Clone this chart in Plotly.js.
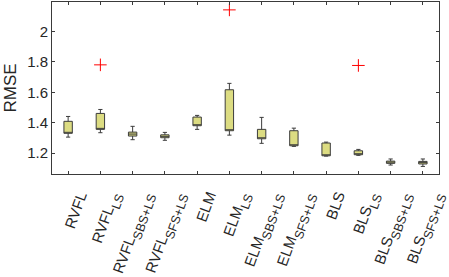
<!DOCTYPE html>
<html>
<head>
<meta charset="utf-8">
<script src="https://cdn.plot.ly/plotly-3.0.1.min.js"></script>
<style>html,body{margin:0;padding:0;background:#fff;}#chart{width:449px;height:277px;}</style>
</head>
<body>
<div id="chart"></div>
<script>
const categories = ['RVFL','RVFL_LS','RVFL_SBS+LS','RVFL_SFS+LS','ELM','ELM_LS','ELM_SBS+LS','ELM_SFS+LS','BLS','BLS_LS','BLS_SBS+LS','BLS_SFS+LS'];
const upperWhisker = [1.441, 1.487, 1.376, 1.336, 1.448, 1.659, 1.435, 1.364, 1.272, 1.224, 1.161, 1.161];
const q3Values     = [1.409, 1.461, 1.338, 1.320, 1.437, 1.617, 1.356, 1.347, 1.266, 1.215, 1.147, 1.145];
const medianValues = [1.330, 1.356, 1.325, 1.310, 1.380, 1.347, 1.294, 1.248, 1.182, 1.189, 1.140, 1.137];
const q1Values     = [1.330, 1.356, 1.312, 1.301, 1.380, 1.347, 1.294, 1.248, 1.182, 1.189, 1.132, 1.128];
const lowerWhisker = [1.305, 1.334, 1.288, 1.284, 1.356, 1.318, 1.264, 1.244, 1.180, 1.185, 1.121, 1.112];
const outlierCats = ['RVFL_LS','ELM_LS','BLS_LS'];
const outlierValues = [1.781, 2.143, 1.777];
const yTickVals = [1.2, 1.4, 1.6, 1.8, 2];
const yTickText = ['1.2', '1.4', '1.6', '1.8', '2'];

// tick label text: base name with subscript part rendered smaller and lowered
const tickText = categories.map(c => {
  const parts = c.split('_');
  return parts.length > 1
    ? parts[0] + '<sub><sub><span style="font-size:12.5px">' + parts[1] + '</span></sub></sub>'
    : parts[0];
});

const axisColor = '#3a3a3a';
const traces = [{
  type: 'box',
  x: categories,
  q1: q1Values,
  median: medianValues,
  q3: q3Values,
  lowerfence: lowerWhisker,
  upperfence: upperWhisker,
  width: 0.26,
  whiskerwidth: 0.5,
  fillcolor: '#dcdc82',
  line: {color: '#3c3c3c', width: 1},
  boxpoints: false,
  hoverinfo: 'none',
  showlegend: false
}, {
  type: 'scatter',
  mode: 'markers',
  x: outlierCats,
  y: outlierValues,
  marker: {symbol: 'cross-thin-open', size: 9, color: '#ff0000', line: {color: '#ff0000', width: 1}},
  showlegend: false,
  hoverinfo: 'none'
}];

const layout = {
  width: 449, height: 277,
  margin: {l: 52, r: 10, t: 2, b: 103},
  paper_bgcolor: '#ffffff', plot_bgcolor: '#ffffff',
  font: {family: 'Liberation Sans, Arial, sans-serif', color: '#262626', size: 14},
  xaxis: {
    type: 'category',
    categoryorder: 'array', categoryarray: categories,
    tickmode: 'array', tickvals: categories, ticktext: tickText,
    range: [-0.5, 11.5],
    showgrid: false, zeroline: false,
    showline: true, linecolor: axisColor, linewidth: 1, mirror: 'ticks',
    ticks: 'inside', ticklen: 3, tickcolor: axisColor,
    tickangle: -70,
    ticklabelshift: 12,
    ticklabelstandoff: 6,
    tickfont: {size: 15, color: '#262626'}
  },
  yaxis: {
    range: [1.062, 2.195],
    tickvals: yTickVals, ticktext: yTickText,
    showgrid: false, zeroline: false,
    showline: true, linecolor: axisColor, linewidth: 1, mirror: 'ticks',
    ticks: 'inside', ticklen: 3, tickcolor: axisColor,
    tickfont: {size: 15, color: '#262626'},
    title: {text: 'RMSE', font: {size: 17, color: '#262626'}, standoff: 6}
  }
};
Plotly.newPlot('chart', traces, layout, {staticPlot: true, displayModeBar: false});
</script>
</body>
</html>
